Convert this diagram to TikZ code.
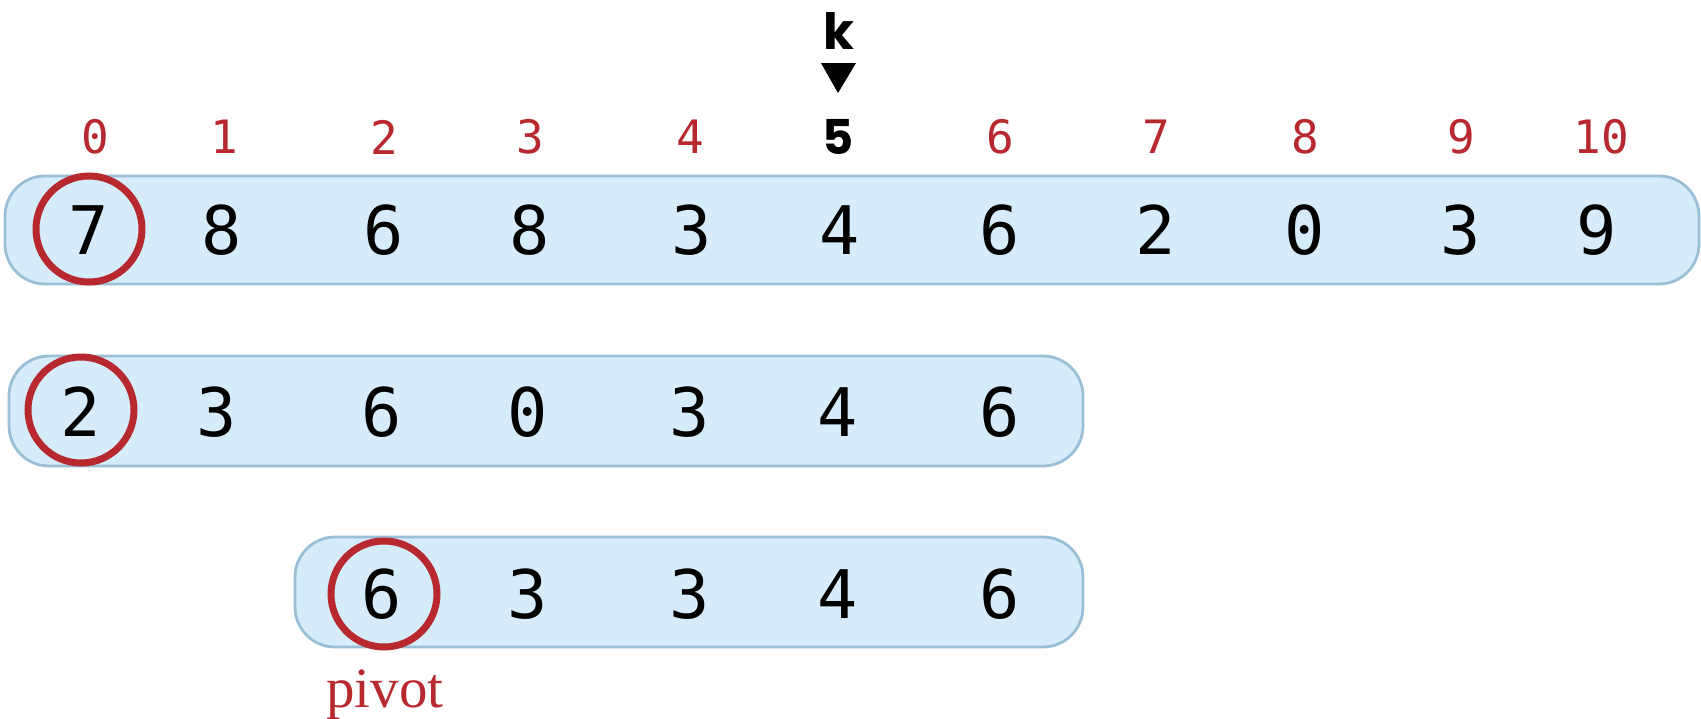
\documentclass[tikz,border=0pt]{standalone}
\usepackage{fontspec}
\newfontfamily\monof{DejaVu Sans Mono}
\newfontfamily\kf{Poppins}
\setmainfont{Liberation Serif}
\definecolor{boxfill}{HTML}{D6ECFB}
\definecolor{boxline}{HTML}{9BBFD6}
\definecolor{myred}{HTML}{B8292F}
\tikzset{
  arr/.style={draw=boxline, fill=boxfill, line width=2.8pt, rounded corners=40pt, inner sep=0pt},
  val/.style={font=\monof\fontsize{67}{67}\selectfont, text=black, inner sep=0pt},
  idx/.style={font=\monof\fontsize{46}{46}\selectfont, text=myred, inner sep=0pt},
  ring/.style={circle, draw=myred, line width=7pt, minimum size=106pt, inner sep=0pt},
}
\begin{document}
\begin{tikzpicture}[x=1pt,y=-1pt]
\useasboundingbox (0,0) rectangle (1701,718);
% arrays
\node[arr, minimum width=1694pt, minimum height=108pt] (r1) at (852,230) {};
\node[arr, minimum width=1074pt, minimum height=110pt] (r2) at (546,411) {};
\node[arr, minimum width=788pt, minimum height=110pt] (r3) at (689,592) {};
% indices
\foreach \x/\t [count=\i from 0] in {95/0,224/1,384/2,530/3,690/4,838/5,1000/6,1156/7,1305/8,1461/9,1601/10}{
  \ifnum\i=5
    \node[font=\kf\bfseries\fontsize{48}{48}\selectfont, inner sep=0pt] (i\i) at (\x,137) {\t};
  \else
    \node[idx] (i\i) at (\x,137) {\t};
  \fi
}
% k marker
\node[font=\kf\bfseries\fontsize{50}{50}\selectfont, inner sep=0pt] (k) at (839,31) {k};
\coordinate (kt) at (838,93);
\fill (821,63) -- (856,63) -- (kt) -- cycle;
% row 1
\foreach \x/\t [count=\i] in {89/7,222/8,384/6,530/8,692/3,840/4,1000/6,1156/2,1305/0,1461/3,1597/9}{
  \node[val] (a\i) at (\x,230) {\t};
}
% row 2
\foreach \x/\t [count=\i] in {81/2,217/3,382/6,528/0,690/3,838/4,1000/6}{
  \node[val] (b\i) at (\x,412) {\t};
}
% row 3
\foreach \x/\t [count=\i] in {382/6,528/3,690/3,838/4,1000/6}{
  \node[val] (c\i) at (\x,594) {\t};
}
% circles
\node[ring] (o1) at (89,229) {};
\node[ring] (o2) at (81,410) {};
\node[ring] (o3) at (384,594) {};
% pivot
\node[font=\fontsize{57}{57}\selectfont, text=myred, inner sep=0pt] (pv) at (385,695) {pivot};
\end{tikzpicture}
\end{document}
